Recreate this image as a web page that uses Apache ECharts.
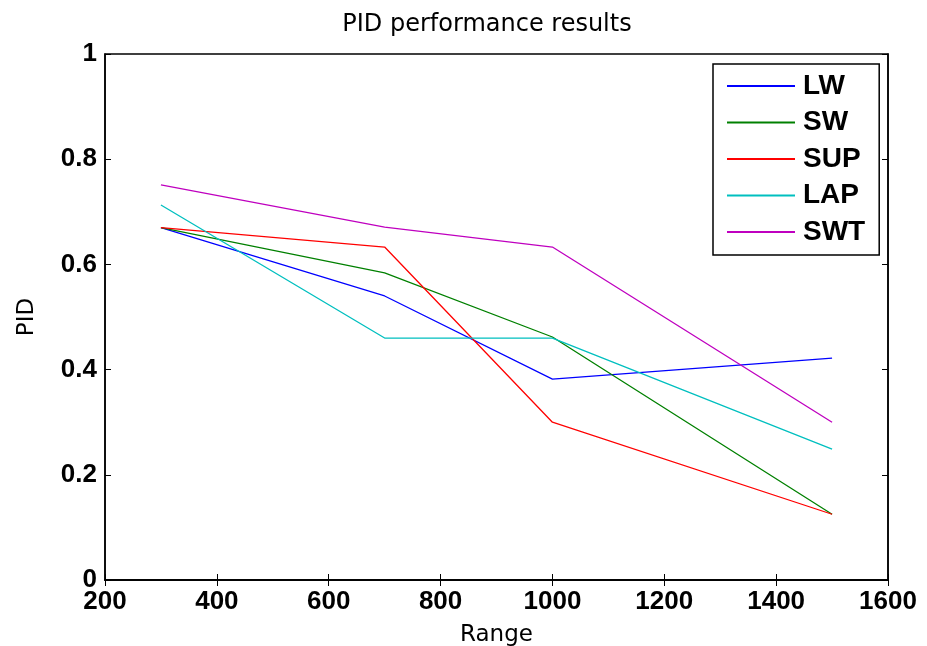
<!DOCTYPE html>
<html><head><meta charset="utf-8">
<script src="https://cdn.jsdelivr.net/npm/echarts@6/dist/echarts.min.js"></script>
<style>html,body{margin:0;padding:0;background:#fff}#c{width:927px;height:646px}</style>
</head><body><div id="c"></div>
<script>
const ranges = [300, 700, 1000, 1500];
const LW  = [0.67, 0.54, 0.382, 0.422];
const SW  = [0.67, 0.584, 0.462, 0.125];
const SUP = [0.67, 0.633, 0.300, 0.125];
const LAP = [0.713, 0.46, 0.46, 0.249];
const SWT = [0.751, 0.671, 0.633, 0.300];
const seriesNames = ['LW','SW','SUP','LAP','SWT'];
const seriesData = [LW, SW, SUP, LAP, SWT];
const colors = ['#0000FF','#008000','#FF0000','#00BFBF','#BF00BF'];

const tickFont = {fontFamily:'Liberation Sans, Arial', fontWeight:'bold', fontSize:26, color:'#000'};
const chart = echarts.init(document.getElementById('c'), null, {renderer:'canvas'});
chart.setOption({
  animation:false,
  backgroundColor:'#fff',
  title:{text:'PID performance results', left:482, textAlign:'center', top:8,
    textStyle:{fontFamily:'DejaVu Sans', fontWeight:'normal', fontSize:24, color:'#000'}},
  grid:{left:105, right:39, top:54, bottom:66, outerBoundsMode:'none', containLabel:false,
    show:true, borderColor:'#000', borderWidth:1.5, backgroundColor:'transparent'},
  legend:{orient:'vertical', left:713, top:64, padding:[7,14,8,14], itemGap:6.5,
    borderColor:'#000', borderWidth:1.5, backgroundColor:'#fff',
    itemWidth:68, itemHeight:2, icon:'rect',
    textStyle:{fontFamily:'Liberation Sans, Arial', fontWeight:'bold', fontSize:28, color:'#000', lineHeight:30, padding:[0,0,0,3]},
    data:seriesNames},
  xAxis:[{type:'value', min:200, max:1600, interval:200, name:'Range', nameLocation:'middle', nameGap:44,
    nameTextStyle:{fontFamily:'DejaVu Sans', fontSize:23, color:'#000'},
    axisLine:{lineStyle:{color:'#000', width:1.5}}, axisTick:{inside:true, length:6, lineStyle:{color:'#000'}},
    axisLabel:Object.assign({margin:9, formatter:v=>String(v)}, tickFont), splitLine:{show:false}},
    {type:'value', position:'top', min:200, max:1600, interval:200, axisLine:{show:true, lineStyle:{color:'#000', width:1.5}},
    axisTick:{inside:true, length:6, lineStyle:{color:'#000'}}, axisLabel:{show:false}, splitLine:{show:false}}],
  yAxis:[{type:'value', min:0, max:1, interval:0.2, name:'PID', nameLocation:'middle', nameGap:66,
    nameTextStyle:{fontFamily:'DejaVu Sans', fontSize:23, color:'#000'},
    axisLine:{show:true, lineStyle:{color:'#000', width:1.5}}, axisTick:{show:true, inside:true, length:6, lineStyle:{color:'#000'}},
    axisLabel:Object.assign({margin:8, formatter:v=>String(Math.round(v*10)/10)}, tickFont), splitLine:{show:false}},
    {type:'value', position:'right', min:0, max:1, interval:0.2, axisLine:{show:true, lineStyle:{color:'#000', width:1.5}},
    axisTick:{show:true, inside:true, length:6, lineStyle:{color:'#000'}}, axisLabel:{show:false}, splitLine:{show:false}}],
  series: seriesNames.map((n,i)=>({
    name:n, type:'line', xAxisIndex:0, yAxisIndex:0, showSymbol:false, symbol:'none',
    lineStyle:{color:colors[i], width:1.3}, itemStyle:{color:colors[i]},
    data: ranges.map((x,j)=>[x, seriesData[i][j]])
  }))
});
</script></body></html>
